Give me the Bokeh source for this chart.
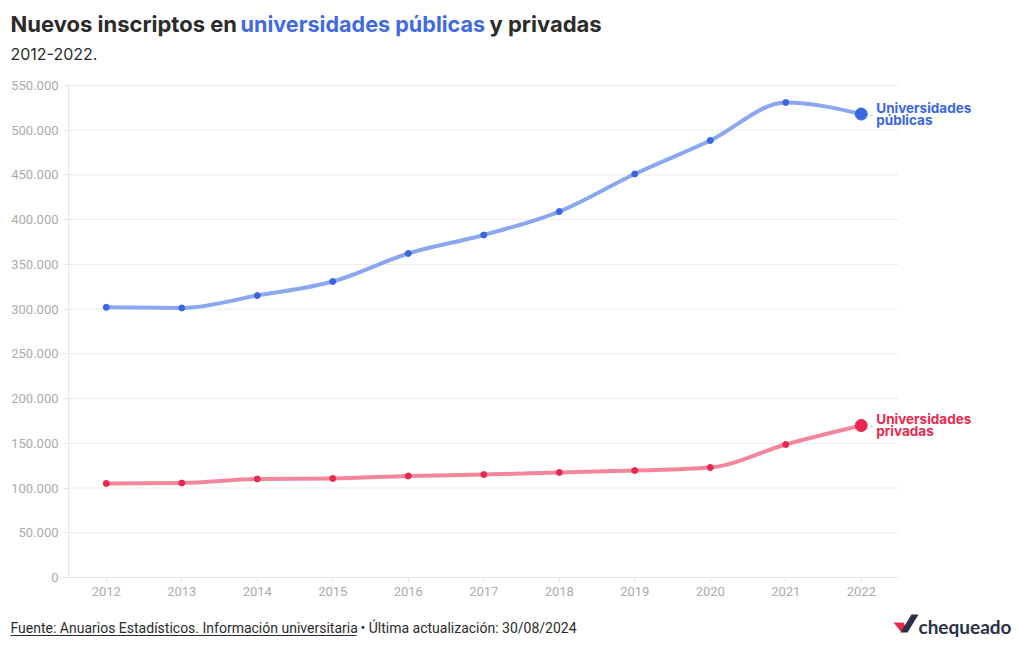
from bokeh.plotting import figure
from bokeh.layouts import column, row
from bokeh.models import Label, FixedTicker, ColumnDataSource, Range1d
from bokeh.embed import file_html
from bokeh.resources import INLINE

# ---------------- data ----------------
years = [2012, 2013, 2014, 2015, 2016, 2017, 2018, 2019, 2020, 2021, 2022]
publicas = [302000, 301300, 315200, 330900, 362200, 382900, 409100, 451100, 488500, 531000, 518100]
privadas = [105100, 105600, 110100, 110700, 113500, 115100, 117400, 119600, 123000, 148700, 169900]
y_ticks = [0, 50000, 100000, 150000, 200000, 250000, 300000, 350000, 400000, 450000, 500000, 550000]
y_tick_labels = ["0", "50.000", "100.000", "150.000", "200.000", "250.000", "300.000",
                 "350.000", "400.000", "450.000", "500.000", "550.000"]

W = 1020
FONT = "Inter"
SMALL = "Roboto"

BLUE_LINE = "#8aa7f0"
BLUE_DOT = "#3b66e2"
RED_LINE = "#f4869b"
RED_DOT = "#e8294f"
DARK = "#2b2b2b"


def monotone_beziers(xs, ys):
    """Control points of a monotone cubic curve (d3 curveMonotoneX)."""
    n = len(xs)
    h = [xs[i + 1] - xs[i] for i in range(n - 1)]
    s = [(ys[i + 1] - ys[i]) / h[i] for i in range(n - 1)]
    t = [0.0] * n

    def sign(v):
        return (v > 0) - (v < 0)

    for i in range(1, n - 1):
        s0, s1 = s[i - 1], s[i]
        p_ = (s0 * h[i] + s1 * h[i - 1]) / (h[i - 1] + h[i])
        t[i] = (sign(s0) + sign(s1)) * min(abs(s0), abs(s1), 0.5 * abs(p_))
    t[0] = (3 * s[0] - t[1]) / 2
    t[-1] = (3 * s[-1] - t[-2]) / 2
    d = dict(x0=[], y0=[], x1=[], y1=[], cx0=[], cy0=[], cx1=[], cy1=[])
    for i in range(n - 1):
        dx = h[i] / 3
        d["x0"].append(xs[i]); d["y0"].append(ys[i])
        d["x1"].append(xs[i + 1]); d["y1"].append(ys[i + 1])
        d["cx0"].append(xs[i] + dx); d["cy0"].append(ys[i] + dx * t[i])
        d["cx1"].append(xs[i + 1] - dx); d["cy1"].append(ys[i + 1] - dx * t[i + 1])
    return ColumnDataSource(d)


def blank(height):
    f = figure(width=W, height=height, x_range=Range1d(0, W), y_range=Range1d(height, 0),
               output_backend="svg", toolbar_location=None, x_axis_type=None, y_axis_type=None,
               min_border=0, min_border_left=0, min_border_right=0,
               min_border_top=0, min_border_bottom=0)
    f.outline_line_color = None
    f.grid.grid_line_color = None
    f.background_fill_color = "white"
    f.border_fill_color = "white"
    return f


# ---------------- title block ----------------
TOP_H = 70
top = blank(TOP_H)
for txt, xx, col, fs in (("Nuevos inscriptos en", 10, DARK, "22px"),
                         ("universidades públicas", 240, "#4169e1", "21.6px"),
                         ("y privadas", 489, DARK, "22px")):
    top.add_layout(Label(x=xx, y=23, text=txt, text_color=col, text_font=FONT,
                         text_font_style="bold", text_font_size=fs, text_baseline="middle"))
top.add_layout(Label(x=10, y=53, text="2012-2022.", text_color=DARK, text_font=FONT,
                     text_font_size="16px", text_baseline="middle"))

# ---------------- main chart ----------------
p = figure(x_range=(2011.5, 2011.5 + 952 / 75.5), y_range=(0, 550000 * 507 / 492),
           output_backend="svg", toolbar_location=None,
           min_border_left=68, min_border_right=0, min_border_top=0, min_border_bottom=26)
p.frame_width = 952
p.frame_height = 507
p.outline_line_color = None
p.background_fill_color = "white"
p.border_fill_color = "white"

p.xaxis.ticker = FixedTicker(ticks=years)
p.yaxis.ticker = FixedTicker(ticks=y_ticks)
p.yaxis.major_label_overrides = {t: l for t, l in zip(y_ticks, y_tick_labels)}
p.xaxis.bounds = (2011.5, 2022.49)
p.yaxis.bounds = (0, 550000)
for ax in (p.xaxis[0], p.yaxis[0]):
    ax.axis_line_color = "#e6e6e6"
    ax.major_tick_line_color = "#e6e6e6"
    ax.major_tick_out = 5
    ax.major_tick_in = 0
    ax.minor_tick_line_color = None
    ax.major_label_text_color = "#ababab"
    ax.major_label_text_font = SMALL
    ax.major_label_text_font_size = "13px"
p.yaxis.major_label_standoff = 5
p.xaxis.major_label_standoff = 4
p.grid.grid_line_color = None

p.segment(x0=[2011.5] * len(y_ticks), x1=[2022.49] * len(y_ticks), y0=y_ticks, y1=y_ticks,
          line_color="#ececec", line_width=1)

for vals, lc, dc in ((publicas, BLUE_LINE, BLUE_DOT), (privadas, RED_LINE, RED_DOT)):
    src = monotone_beziers(years, vals)
    p.bezier(x0="x0", y0="y0", x1="x1", y1="y1", cx0="cx0", cy0="cy0", cx1="cx1", cy1="cy1",
             source=src, line_color=lc, line_width=4, line_cap="round")
    p.scatter(years[:-1], vals[:-1], size=6, color=dc)
    p.scatter(years[-1:], vals[-1:], size=12, color=dc)

for vals, col, second in ((publicas, BLUE_DOT, "públicas"), (privadas, RED_DOT, "privadas")):
    p.add_layout(Label(x=years[-1], y=vals[-1], x_offset=8, y_offset=0, text="-",
                       text_color="#bbbbbb", text_font=FONT, text_font_size="9px",
                       text_baseline="middle"))
    p.add_layout(Label(x=years[-1], y=vals[-1], x_offset=15, y_offset=6.5, text="Universidades",
                       text_color=col, text_font=FONT, text_font_style="bold",
                       text_font_size="13.5px", text_baseline="middle"))
    p.add_layout(Label(x=years[-1], y=vals[-1], x_offset=15, y_offset=-5.5, text=second,
                       text_color=col, text_font=FONT, text_font_style="bold",
                       text_font_size="13.5px", text_baseline="middle"))

# ---------------- footer ----------------
FOOT_H = 650 - TOP_H - 507 - 26
foot = blank(FOOT_H)
fy = 627 - (TOP_H + 507 + 26)
foot.add_layout(Label(x=10, y=fy, text="Fuente: Anuarios Estadísticos. Información universitaria",
                      text_color=DARK, text_font=SMALL, text_font_size="14px",
                      text_baseline="middle"))
foot.add_layout(Label(x=360, y=fy, text="• Última actualización: 30/08/2024",
                      text_color=DARK, text_font=SMALL, text_font_size="14px",
                      text_baseline="middle"))
foot.segment(x0=[10], x1=[356], y0=[fy + 8], y1=[fy + 8], line_color=DARK, line_width=1)

fl = 626 - (TOP_H + 507 + 26)
foot.patch([893, 903, 906, 901], [fl - 4, fl - 4, fl + 2, fl + 6], fill_color="#e8294f", line_color=None)
foot.patch([900, 907, 918, 911], [fl + 6, fl + 6, fl - 12, fl - 12], fill_color="#2b3046", line_color=None)
foot.add_layout(Label(x=918, y=fl, text="chequeado", text_color="#2b3046", text_font="Lato",
                      text_font_style="bold", text_font_size="19px", text_baseline="middle"))

layout = column(row(top), p, row(foot), spacing=0)
open("out.html", "w").write(file_html(layout, INLINE))
